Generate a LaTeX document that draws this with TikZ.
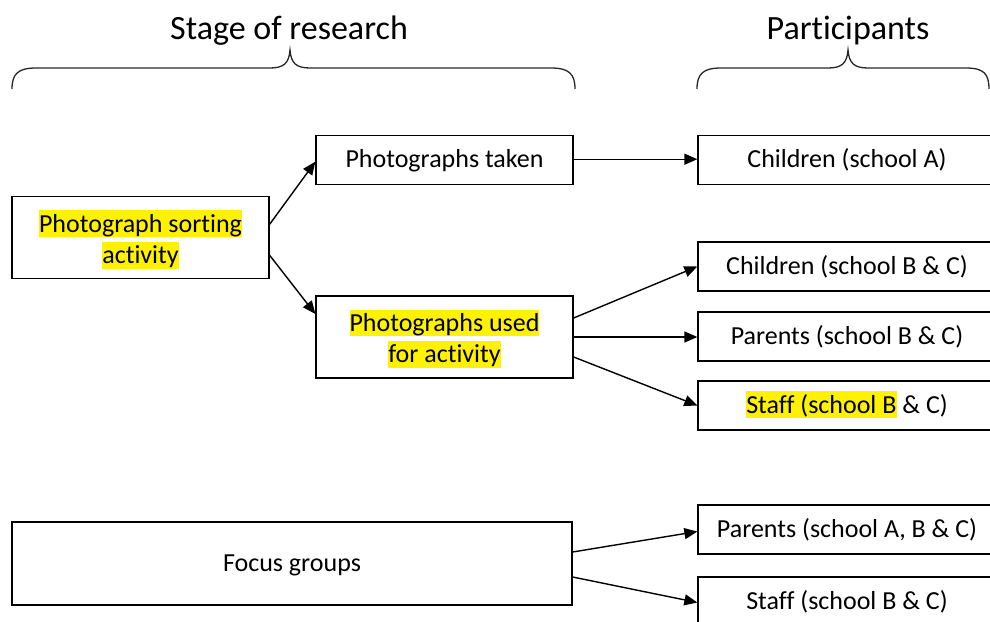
\documentclass[tikz,border=0pt]{standalone}
\usepackage{fontspec}
\setmainfont[Ligatures=NoCommon]{Carlito}
\usetikzlibrary{arrows.meta}
% yellow text highlight that takes no vertical room in the layout
\newcommand{\hlt}[1]{\smash{{\setlength{\fboxsep}{0pt}\colorbox{yellow}{\rule[-0.2em]{0pt}{1.03em}#1}}}}
% struts that fix the text position inside the boxes
\newcommand{\topstrut}[1]{\rule{0pt}{#1}}
\newcommand{\botstrut}{\rule[-6pt]{0pt}{0pt}}

\begin{document}
\begin{tikzpicture}[x=1pt,y=-1pt,
  box/.style={draw=black, line width=1.3pt, rectangle, inner sep=0pt,
    align=center, font=\fontsize{26}{31.5}\selectfont},
  oneline/.style={box, execute at begin node={\topstrut{21pt}},
    execute at end node={\botstrut}},
  stagebox/.style={minimum width=257pt},
  partbox/.style={oneline, minimum width=298pt, minimum height=49pt},
  heading/.style={font=\fontsize{34}{40}\selectfont, inner sep=0pt},
  brace/.style={line width=1.3pt, draw=black!85},
  arr/.style={line width=1.4pt, -{Triangle[length=13pt,width=11pt]}}]

\useasboundingbox (0,0) rectangle (990,621);
\clip (0,0) rectangle (990,621);

% column headings
\node[heading] (stage) at (289,31) {Stage of research};
\node[heading] (part) at (848,31) {Participants};

% curly braces under the headings
\draw[brace] (12,89) .. controls (12,74) and (18,68) .. (36,68)
  -- (270,68) .. controls (284,68) and (289,63) .. (290,50)
  .. controls (291,63) and (296,68) .. (310,68)
  -- (551,68) .. controls (569,68) and (575,74) .. (575,89);
\draw[brace] (697,89) .. controls (697,74) and (703,68) .. (721,68)
  -- (828,68) .. controls (842,68) and (847,63) .. (848,50)
  .. controls (849,63) and (854,68) .. (868,68)
  -- (966,68) .. controls (984,68) and (989,74) .. (989,89);

% stages of research
\node[box, stagebox, minimum height=82pt] (sort) at (140.5,237.8)
  {\topstrut{26pt}\hlt{Photograph sorting}\\\hlt{activity}\botstrut};
\node[oneline, stagebox, minimum height=49pt] (taken) at (444.5,159.7) {Photographs taken};
\node[box, stagebox, minimum height=82pt] (used) at (444.5,337)
  {\topstrut{26pt}\hlt{Photographs used}\\\hlt{for activity}\botstrut};
\node[oneline, minimum width=560pt, minimum height=83pt] (focus) at (292,563.5) {Focus groups};

% participants
\node[partbox] (chA) at (847,159.7) {Children (school A)};
\node[partbox] (chBC) at (847,266.5) {Children (school B \& C)};
\node[partbox] (parBC) at (847,336.5) {Parents (school B \& C)};
\node[partbox] (stBC) at (847,405.5) {\hlt{Staff (school B} \& C)};
\node[partbox] (parABC) at (847,529.5) {Parents (school A, B \& C)};
\node[partbox] (stABC) at (847,601.5) {Staff (school B \& C)};

% connectors
\draw[arr] ([yshift=13.5pt]sort.east) -- ([yshift=-2pt]taken.west);
\draw[arr] ([yshift=-17.5pt]sort.east) -- ([yshift=23pt]used.west);
\draw[arr] ([yshift=0.5pt]taken.east) -- ([yshift=0.5pt]chA.west);
\draw[arr] ([yshift=19pt]used.east) -- (chBC.west);
\draw[arr] (used.east) -- (used.east -| parBC.west);
\draw[arr] ([yshift=-20pt]used.east) -- (stBC.west);
\draw[arr] ([yshift=11.5pt]focus.east) -- ([yshift=-2pt]parABC.west);
\draw[arr] ([yshift=-13.5pt]focus.east) -- ([yshift=-1pt]stABC.west);
\end{tikzpicture}
\end{document}
